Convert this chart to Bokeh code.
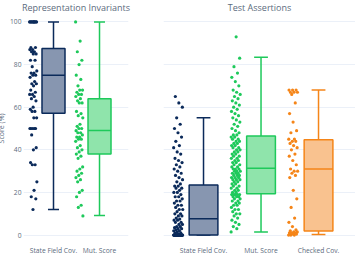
from bokeh.plotting import figure
from bokeh.layouts import row
from bokeh.models import Range1d, FixedTicker
from bokeh.embed import file_html
from bokeh.resources import INLINE

# ---------------- data ----------------
ri_cats = ["State Field Cov.", "Mut. Score"]
ta_cats = ["State Field Cov.", "Mut. Score", "Checked Cov."]

sfc_ri = [100, 100, 100, 100, 100, 100, 100, 100, 100, 100,
          88, 88, 87, 87, 86, 86, 85, 85, 82, 82, 79,
          77, 76, 76, 75, 75, 74, 72, 71, 71, 70,
          68, 67, 66, 66, 65, 64, 63, 60, 59, 58, 58,
          55, 55, 50, 50, 50, 50, 50, 47, 41, 40,
          34, 33, 33, 25, 21, 18, 17, 12]
mut_ri = [100, 91, 86, 82, 80, 75, 73, 70, 68, 68, 67, 66, 66, 65, 64, 63,
          62, 62, 58, 57, 56, 55, 52, 51, 50, 50, 49, 48, 48, 47, 46, 46,
          45, 45, 44, 42, 41, 40, 39, 38, 37, 36, 32, 31, 30, 29, 28, 27,
          26, 25, 21, 20, 18, 14, 13, 9]

sfc_ta = [0, 0, 0, 0, 0, 0, 0, 0, 0, 0, 0, 0, 0, 0, 0, 0, 0, 0, 0, 0,
          0, 0, 0, 0, 0, 0, 0, 0, 0, 0,
          0.5, 1, 1, 1.5, 2, 2, 2.5, 3, 3, 3.5, 4, 4, 5, 5, 6, 6, 7, 7, 7.5,
          8, 9, 9, 10, 10, 11, 12, 12, 13, 14, 14, 15, 16, 16, 17, 18, 18,
          19, 20, 20, 21, 22, 22, 23, 23,
          24, 25, 26, 27, 28, 29, 30, 31, 32, 33, 34, 35, 36, 38, 39, 41,
          42, 44, 46, 48, 50, 52, 55, 60, 62, 65]
mut_ta = [1.5, 3, 4, 5, 6, 7, 8, 9, 10, 10, 11, 12, 12, 13, 14, 14, 15, 15,
          16, 16, 17, 17, 18, 18, 18, 19, 19, 19, 19, 19,
          20, 20, 21, 21, 22, 22, 23, 23, 24, 24, 25, 25, 26, 26, 26, 27,
          27, 27, 28, 28, 28, 29, 29, 29, 30, 30, 30, 31, 31, 31,
          32, 32, 33, 33, 34, 34, 35, 35, 36, 36, 37, 37, 38, 38, 39, 39,
          40, 40, 41, 41, 42, 42, 43, 43, 44, 44, 45, 45, 46, 46,
          47, 47, 48, 49, 50, 51, 52, 53, 54, 55, 56, 57, 58, 59, 60, 61,
          62, 63, 64, 65, 66, 67, 68, 70, 72, 74, 76, 79, 83, 93]
chk_ta = [0, 0, 0, 0.5, 0.5, 1, 1, 1, 1.5, 1.5, 2, 2.5,
          4, 6, 8, 13, 17, 21, 27, 28, 29, 30, 30, 31,
          33, 35, 37, 38, 40, 41, 42, 43, 44, 44, 45, 45,
          48, 49, 53, 57, 62, 66, 67, 67, 67, 68, 68, 68]

# box statistics (lower whisker, q1, median, q3, upper whisker)
ri_low = [12, 9.2]
ri_q1 = [57.1, 38]
ri_med = [75, 49.1]
ri_q3 = [87.5, 64]
ri_high = [100, 100]

ta_low = [0, 1.5, 0.3]
ta_q1 = [0, 19.4, 1.9]
ta_med = [7.7, 31.3, 31]
ta_q3 = [23.5, 46.5, 44.7]
ta_high = [55, 83.4, 68]

y_ticks = [0, 20, 40, 60, 80, 100]

line_cols = ["#0b2a5a", "#1ec95b", "#f58518"]
fill_cols = ["#8796b0", "#8fe4ab", "#f9c28f"]

GRID = "#ebf0f8"
TXT = "#5b6b7d"
FONT = "Open Sans"


def jitter(n, amp):
    return [((i * 0.6180339887) % 1 - 0.5) * 2 * amp for i in range(n)]


def panel(p, cats, series, low, q1, med, q3, high):
    for i, vals in enumerate(series):
        js = jitter(len(vals), 0.08)
        xs = [i - 0.44 + j for j in js]
        p.scatter(xs, vals, size=3.2, color=line_cols[i], line_width=0)
        p.segment([i], [q3[i]], [i], [high[i]], color=line_cols[i], line_width=1.5)
        p.segment([i], [low[i]], [i], [q1[i]], color=line_cols[i], line_width=1.5)
        p.segment([i - 0.12], [high[i]], [i + 0.12], [high[i]], color=line_cols[i], line_width=1.5)
        p.segment([i - 0.12], [low[i]], [i + 0.12], [low[i]], color=line_cols[i], line_width=1.5)
        p.quad(left=[i - 0.25], right=[i + 0.25], bottom=[q1[i]], top=[q3[i]],
               fill_color=fill_cols[i], line_color=line_cols[i], line_width=1.5)
        p.segment([i - 0.25], [med[i]], [i + 0.25], [med[i]], color=line_cols[i], line_width=1.5)
    p.xaxis.ticker = FixedTicker(ticks=list(range(len(cats))))
    p.xaxis.major_label_overrides = {i: c for i, c in enumerate(cats)}
    p.yaxis.ticker = FixedTicker(ticks=y_ticks)
    p.xgrid.visible = False
    p.ygrid.grid_line_color = GRID
    p.ygrid.grid_line_width = 1
    for ax in (p.xaxis[0], p.yaxis[0]):
        ax.axis_line_color = None
        ax.major_tick_line_color = None
        ax.minor_tick_line_color = None
        ax.major_tick_out = 0
        ax.major_tick_in = 0
        ax.minor_tick_out = 0
        ax.minor_tick_in = 0
        ax.major_label_text_color = TXT
        ax.major_label_text_font = FONT
        ax.major_label_text_font_size = "6.7px"
    p.xaxis.major_label_standoff = 4
    p.yaxis.major_label_standoff = 2
    p.outline_line_color = None
    p.title.text_font = FONT
    p.title.text_font_size = "9px"
    p.title.text_font_style = "normal"
    p.title.text_color = TXT
    p.title.align = "center"
    p.title.standoff = 4


left = figure(frame_width=105, frame_height=226, output_backend="svg", toolbar_location=None,
              x_range=Range1d(-0.652, 1.630), y_range=Range1d(-3, 103),
              title="Representation Invariants",
              min_border_left=23, min_border_right=18, min_border_top=15,
              min_border_bottom=14)
panel(left, ri_cats, [sfc_ri, mut_ri], ri_low, ri_q1, ri_med, ri_q3, ri_high)
left.yaxis.axis_label = "Score (%)"
left.yaxis.axis_label_text_font = FONT
left.yaxis.axis_label_text_font_size = "7px"
left.yaxis.axis_label_text_font_style = "normal"
left.yaxis.axis_label_text_color = TXT
left.yaxis.axis_label_standoff = 1

right = figure(frame_width=192, frame_height=226, output_backend="svg", toolbar_location=None,
               x_range=Range1d(-0.696, 2.643), y_range=Range1d(-3, 103),
               title="Test Assertions",
               min_border_left=17, min_border_right=0, min_border_top=15,
               min_border_bottom=14)
panel(right, ta_cats, [sfc_ta, mut_ta, chk_ta], ta_low, ta_q1, ta_med, ta_q3, ta_high)
right.yaxis.visible = False

layout = row(left, right, styles={"margin-left": "-6px", "margin-top": "-4px"})

open("out.html", "w").write(file_html(layout, INLINE))
